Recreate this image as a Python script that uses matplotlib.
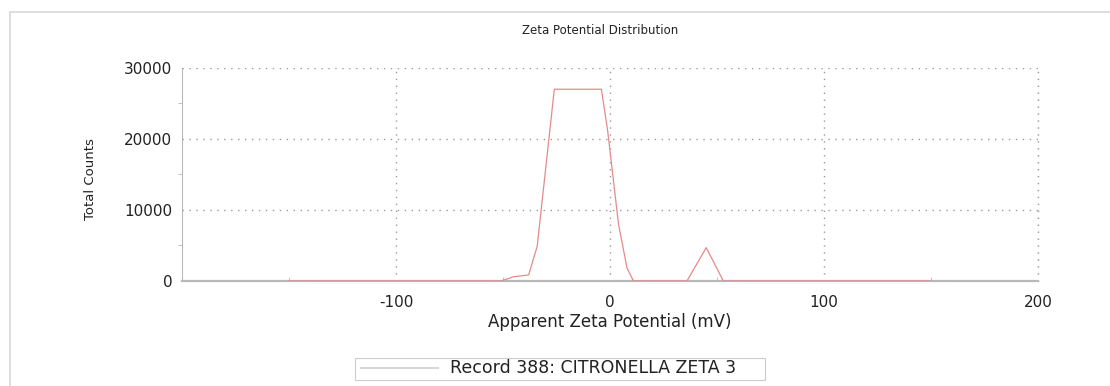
import matplotlib
matplotlib.use("Agg")
import matplotlib.pyplot as plt
from matplotlib.patches import Rectangle
from matplotlib.lines import Line2D

# Zeta potential distribution
zeta_mv = [-150, -100, -51, -45, -38, -34, -26, -4, -1, 4, 8, 11, 20, 36, 45, 53, 60, 100, 150]
counts = [0, 0, 0, 600, 850, 4900, 27000, 27000, 21000, 8000, 1800, 0, 0, 0, 4700, 0, 0, 0, 0]

x_ticks = [-100, 0, 100, 200]
y_ticks = [0, 10000, 20000, 30000]
record_label = "Record 388: CITRONELLA ZETA 3"

GRID = "#9a9a9a"
AXIS = "#b8b8b8"
LINE = "#e58a8a"
TEXT = "#222222"

plt.rcParams["axes.unicode_minus"] = False

fig = plt.figure(figsize=(11.1, 3.86), dpi=100)
ax = fig.add_axes([0.164, 0.272, 0.771, 0.552])

ax.plot(zeta_mv, counts, color=LINE, lw=0.9, zorder=3)

ax.set_xlim(-200, 200)
ax.set_ylim(0, 30000)
ax.set_xticks(x_ticks)
ax.set_yticks(y_ticks)
ax.set_xticks([-150, -50, 50, 150], minor=True)
ax.set_yticks([5000, 15000, 25000], minor=True)
ax.tick_params(axis="both", which="major", length=0, labelsize=11,
               labelcolor=TEXT)
ax.tick_params(axis="x", which="major", pad=10)
ax.tick_params(axis="y", which="major", pad=7)
ax.tick_params(axis="both", which="minor", length=3, color=AXIS)
ax.tick_params(axis="x", which="minor", direction="in")

ax.grid(True, which="major", linestyle=(0, (1, 4)), color=GRID, lw=1.0)
ax.axvline(200, linestyle=(0, (1, 4)), color=GRID, lw=1.0, clip_on=False)
for side in ["top", "right"]:
    ax.spines[side].set_visible(False)
ax.spines["left"].set_color(AXIS)
ax.spines["bottom"].set_color(AXIS)
ax.spines["bottom"].set_linewidth(1.6)

ax.set_xlabel("Apparent Zeta Potential (mV)", fontsize=12, color=TEXT, labelpad=2)
ax.set_ylabel("Total Counts", fontsize=9.5, color=TEXT,
              family=["Liberation Sans Narrow", "DejaVu Sans"])
ax.yaxis.set_label_coords(-0.099, 0.48)
fig.text(0.541, 0.92, "Zeta Potential Distribution", ha="center", va="center",
         fontsize=8.5, color=TEXT)

# outer frame of the report panel
fig.patches.append(Rectangle((0.009, -0.05), 1.1, 1.02, transform=fig.transFigure,
                             fill=False, edgecolor="#d8d8d8", lw=1.2))

# legend strip
fig.patches.append(Rectangle((0.32, 0.016), 0.369, 0.057, transform=fig.transFigure,
                             fill=False, edgecolor="#cccccc", lw=0.8))
fig.lines.append(Line2D([0.325, 0.395], [0.046, 0.046], transform=fig.transFigure,
                        color="#d8d8d8", lw=1.5))
fig.text(0.405, 0.046, record_label, ha="left", va="center", fontsize=12.5,
         color=TEXT)

fig.savefig("out.png", dpi=100)
